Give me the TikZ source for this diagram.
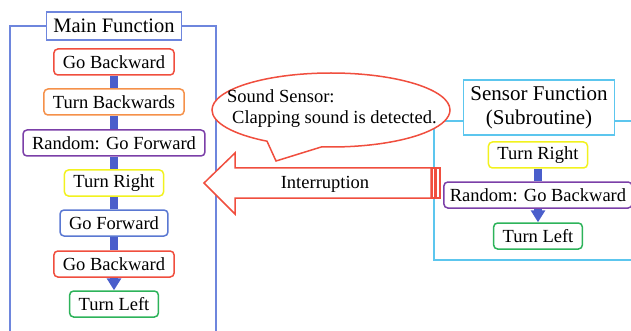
\documentclass[tikz,border=0pt]{standalone}
\usepackage{fontspec}
\setmainfont{Liberation Serif}
\usetikzlibrary{arrows.meta,shapes.callouts}
\definecolor{bred}{HTML}{F04E3E}
\definecolor{borange}{HTML}{F5914A}
\definecolor{bpurple}{HTML}{7B3FA8}
\definecolor{byellow}{HTML}{F2F21E}
\definecolor{bblue}{HTML}{5A78D2}
\definecolor{bgreen}{HTML}{2DB35A}
\definecolor{frameblue}{HTML}{6E86DD}
\definecolor{framecyan}{HTML}{5CC6EE}
\definecolor{barblue}{HTML}{4A5ECB}
\tikzset{
  box/.style={draw,rounded corners=4pt,line width=1.5pt,fill=white,minimum height=26pt,
    inner xsep=9pt,inner ysep=0pt,font=\fontsize{18.5}{22}\selectfont},
  titlebox/.style={draw,line width=1.5pt,fill=white,inner xsep=7pt,inner ysep=0pt,
    font=\fontsize{20.5}{24}\selectfont},
  bar/.style={draw=barblue,line width=8pt},
  mframe/.style={draw=frameblue,line width=1.5pt},
  sframe/.style={draw=framecyan,line width=1.5pt},
  redline/.style={draw=bred,line width=1.5pt,fill=white}
}
\begin{document}
\begin{tikzpicture}[x=1pt,y=-1pt]
\useasboundingbox (0,0) rectangle (631,331);

% main function
\node[titlebox,draw=frameblue,minimum height=28pt] (mt) at (114,26) {Main Function};
\draw[mframe] (mt.west) -| (10,331);
\draw[mframe] (mt.east) -| (216,331);
\foreach \n/\y/\c/\t in {m1/62/bred/Go Backward,m2/102/borange/Turn Backwards,
  m3/143/bpurple/Random: Go Forward,m4/183/byellow/Turn Right,m5/223/bblue/Go Forward,
  m6/264/bred/Go Backward,m7/304/bgreen/Turn Left}
  \node[box,draw=\c] (\n) at (114,\y) {\t};
\foreach \a/\b in {m1/m2,m2/m3,m3/m4,m4/m5,m5/m6}\draw[bar] (\a.south)--(\b.north);
\draw[bar,-{Triangle[width=14pt,length=12pt]}] (m6.south)--(m7.north);

% sensor function
\node[titlebox,draw=framecyan,align=center,minimum height=55pt,
  font=\fontsize{21}{24}\selectfont] (st) at (539,107.5) {Sensor Function\\(Subroutine)};
\coordinate (sc) at (434,121);
\draw[sframe] (st.west |- sc) -- (sc) -- (434,260) -- (631,260);
\draw[sframe] (st.east |- sc) -- (631,121);
\node[box,draw=byellow] (s1) at (538,155) {Turn Right};
\node[box,draw=bpurple,inner xsep=6pt] (s2) at (538,195) {Random: Go Backward};
\node[box,draw=bgreen] (s3) at (538,236) {Turn Left};
\draw[bar] (s1.south)--(s2.north);
\draw[bar,-{Triangle[width=14pt,length=12pt]}] (s2.south)--(s3.north);

% sound sensor callout
\node[ellipse callout,redline,minimum width=238pt,minimum height=74pt,inner sep=0pt,
  callout absolute pointer={(276,161)},callout pointer arc=28] (bubble) at (331,110) {};
\node[anchor=west,align=left,inner sep=0pt,font=\fontsize{18.5}{21}\selectfont]
  (sensortext) at (227,109) {Sound Sensor:\\\hspace*{5pt}Clapping sound is detected.};

% interruption arrow
\draw[redline] (204,183) -- (235,153) -- (235,168) -- (431,168) -- (431,198)
  -- (235,198) -- (235,214) -- cycle;
\draw[redline] (432.5,168) rectangle (435,198);
\draw[redline] (436.5,168) rectangle (440,198);
\node[font=\fontsize{18.5}{22}\selectfont] (interrupt) at (325,184) {Interruption};
\end{tikzpicture}
\end{document}
